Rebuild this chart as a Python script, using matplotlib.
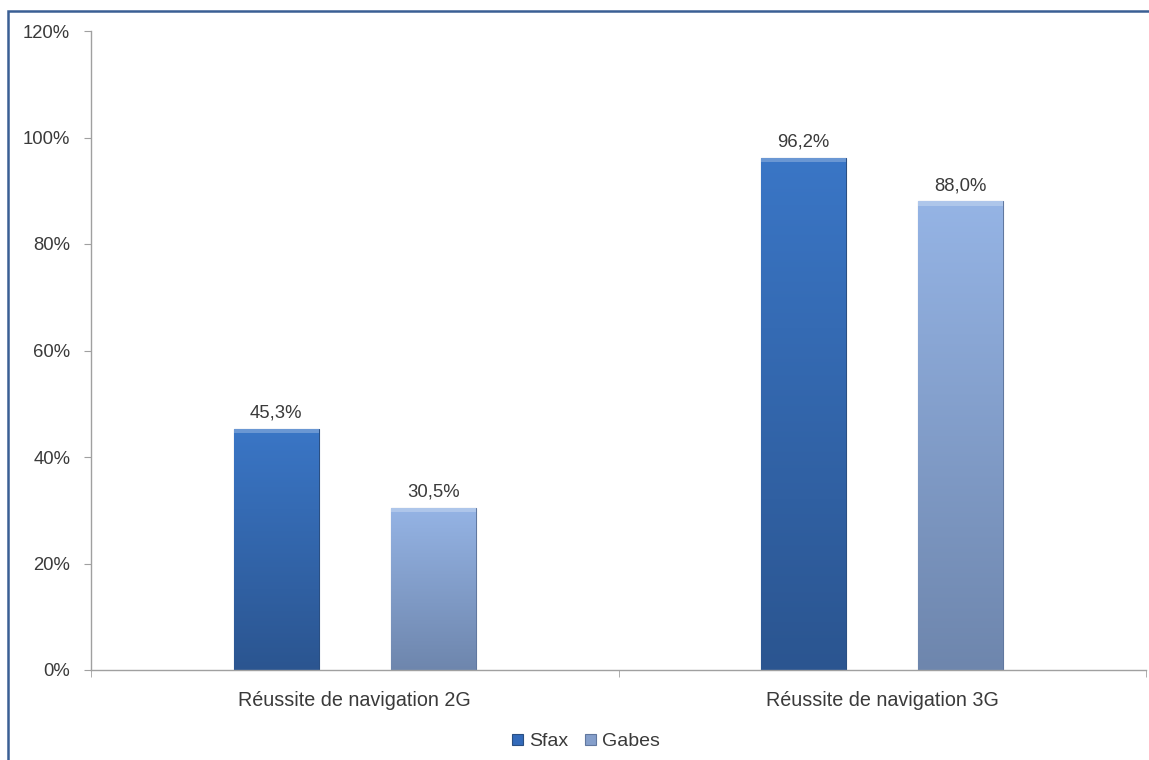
import matplotlib
matplotlib.use("Agg")
import matplotlib.pyplot as plt
import numpy as np
from matplotlib.patches import Rectangle
from matplotlib.colors import LinearSegmentedColormap

categories = ["Réussite de navigation 2G", "Réussite de navigation 3G"]
series_names = ["Sfax", "Gabes"]
sfax = [0.453, 0.962]
gabes = [0.305, 0.880]
labels_sfax = ["45,3%", "96,2%"]
labels_gabes = ["30,5%", "88,0%"]
yticks = [0, 0.2, 0.4, 0.6, 0.8, 1.0, 1.2]
yticklabels = ["0%", "20%", "40%", "60%", "80%", "100%", "120%"]

plt.rcParams['font.family'] = ['Liberation Sans', 'DejaVu Sans']
txt = '#3A3A3A'
fs = 13.3

fig = plt.figure(figsize=(11.49, 7.6), dpi=100)
ax = fig.add_axes([91/1149, 1 - 670/760, (1146-91)/1149, (670-31)/760])

x = np.arange(len(categories))
w = 0.161
off = 0.149
grads = {
    "Sfax": LinearSegmentedColormap.from_list("s", ["#2B5590", "#3A76C6"]),
    "Gabes": LinearSegmentedColormap.from_list("g", ["#6E86AD", "#95B4E5"]),
}
edge = {"Sfax": "#2A4F82", "Gabes": "#61789F"}
base = {"Sfax": "#336ABA", "Gabes": "#859FCB"}
grad_img = np.linspace(0, 1, 256).reshape(-1, 1)

bars_all = []
for name, vals, sign in [("Sfax", sfax, -1), ("Gabes", gabes, 1)]:
    bars = ax.bar(x + sign * off, vals, width=w, color=base[name], edgecolor=edge[name],
                  linewidth=0.8, label=name, zorder=2)
    for b in bars:
        bx, by = b.get_x(), b.get_y()
        bw, bh = b.get_width(), b.get_height()
        im = ax.imshow(grad_img, cmap=grads[name], origin='lower', aspect='auto',
                       extent=[bx, bx + bw, by, by + bh], zorder=2.1)
        im.set_clip_path(b)
        ax.add_patch(Rectangle((bx, by + bh - 0.008), bw, 0.008,
                               color='white', alpha=0.25, zorder=2.2, lw=0))
    bars_all.append((bars, name))

for bars, labs in [(bars_all[0][0], labels_sfax), (bars_all[1][0], labels_gabes)]:
    for b, lab in zip(bars, labs):
        ax.annotate(lab, (b.get_x() + b.get_width() / 2, b.get_height()),
                    xytext=(0, 5), textcoords='offset points', ha='center', va='bottom',
                    fontsize=fs, color=txt)

ax.set_xlim(-0.5, 1.5)
ax.set_ylim(0, 1.2)
ax.set_yticks(yticks)
ax.set_yticklabels(yticklabels, fontsize=fs, color=txt)
ax.set_xticks(x)
ax.set_xticklabels(categories, fontsize=14.2, color=txt)
ax.tick_params(axis='x', length=0, pad=15)
ax.tick_params(axis='y', length=5, color='#A0A0A0', pad=10)
ax.set_xticks([-0.5, 0.5, 1.5], minor=True)
ax.tick_params(axis='x', which='minor', length=5, color='#A0A0A0')
for s in ['top', 'right']:
    ax.spines[s].set_visible(False)
for s in ['left', 'bottom']:
    ax.spines[s].set_color('#A0A0A0')
    ax.spines[s].set_linewidth(1)

leg = ax.legend(loc='center', bbox_to_anchor=((586 - 91) / (1146 - 91), (742 - 670) / -(670 - 31)),
                ncol=2, frameon=False, fontsize=14, handlelength=0.55, handleheight=0.55,
                handletextpad=0.3, columnspacing=0.9, labelcolor=txt)
for h, name in zip(leg.legend_handles, series_names):
    h.set_facecolor(base[name])
    h.set_edgecolor(edge[name])

fig.patches.append(Rectangle((8/1149, -0.1), 1.2, 1 - 11/760 + 0.1, transform=fig.transFigure,
                             fill=False, edgecolor='#3A5F94', linewidth=1.8, zorder=0))

fig.savefig("out.png", dpi=100)
